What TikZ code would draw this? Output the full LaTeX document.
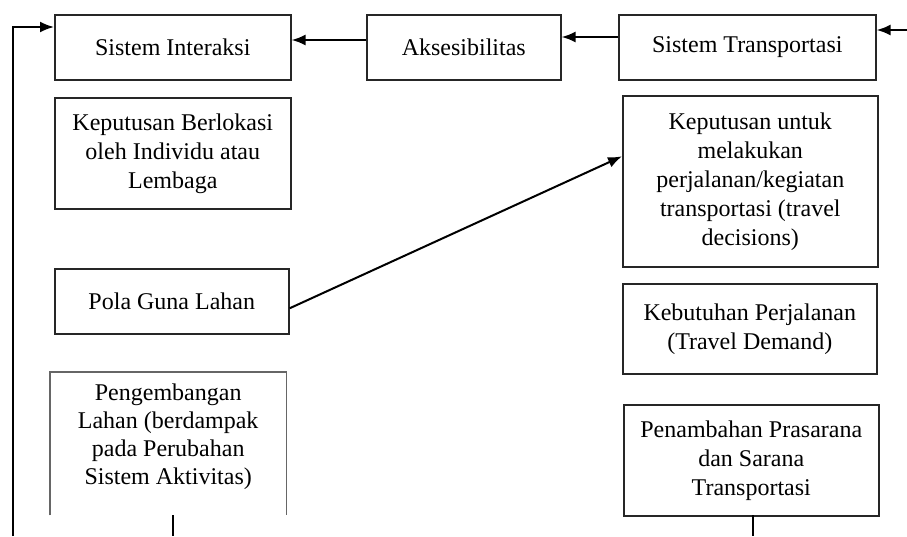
\documentclass[tikz,border=0pt]{standalone}
\usepackage{fontspec}
\setmainfont{Liberation Serif}
\usetikzlibrary{arrows.meta}
\begin{document}
\begin{tikzpicture}[x=1pt,y=-1pt,
  box/.style={draw=black!85, line width=1.6pt, align=center, inner sep=0pt, anchor=north west,
    font=\fontsize{24}{29}\selectfont},
  openbox/.style={align=center, inner sep=0pt, anchor=north west, font=\fontsize{24}{28}\selectfont},
  conn/.style={line width=2pt, -{Latex[length=14pt,width=11pt]}},
  plain/.style={line width=2pt}]
\useasboundingbox (0,0) rectangle (907,536);
% top row
\node[box, minimum width=236pt, minimum height=65pt] (si) at (54,14) {Sistem Interaksi};
\node[box, minimum width=194pt, minimum height=65pt] (ak) at (366,14) {Aksesibilitas};
\node[box, minimum width=257pt, minimum height=65pt] (st) at (618,14) {Sistem Transportasi};
% left column
\node[box, minimum width=236pt, minimum height=111pt] (kb) at (54,97) {Keputusan Berlokasi\\oleh Individu atau\\Lembaga};
\node[box, minimum width=234pt, minimum height=65pt] (pgl) at (54,268) {Pola Guna Lahan};
\node[openbox, minimum width=236pt, minimum height=143pt] (pl) at (50,372) {};
\node[openbox, anchor=north, inner sep=0pt] (pltext) at ([yshift=-12pt]pl.north) {Pengembangan\\Lahan (berdampak\\pada Perubahan\\Sistem Aktivitas)};
\draw[draw=black!60, line width=1.6pt] (pl.south west) -- (pl.north west) -- (pl.north east) -- (pl.south east);
% right column
\node[box, minimum width=255pt, minimum height=171pt] (ku) at (622,95) {Keputusan untuk\\melakukan\\perjalanan/kegiatan\\transportasi (travel\\decisions)};
\node[box, minimum width=254pt, minimum height=90pt] (kp) at (622,283) {Kebutuhan Perjalanan\\(Travel Demand)};
\node[box, minimum width=255pt, minimum height=111pt] (pp) at (623,404) {Penambahan Prasarana\\dan Sarana\\Transportasi};
% free ends
\coordinate (lbot) at (13,536);
\coordinate (lin) at (54,27);
\coordinate (rin) at (907,30);
\coordinate (plbot) at (173,536);
\coordinate (pptop) at (753,515);
\coordinate (ppbot) at (753,536);
% connectors
\draw[conn] (ak.west |- 0,40) -- (si.east |- 0,40);
\draw[conn] (st.west |- 0,37) -- (ak.east |- 0,37);
\draw[conn] (rin) -- (rin -| st.east);
\draw[conn] (lbot) |- (lin);
\draw[conn] ([yshift=-7pt]pgl.east) -- ([yshift=25pt]ku.west);
\draw[plain] (plbot |- pl.south) -- (plbot);
\draw[plain] (pptop) -- (ppbot);
\end{tikzpicture}
\end{document}
